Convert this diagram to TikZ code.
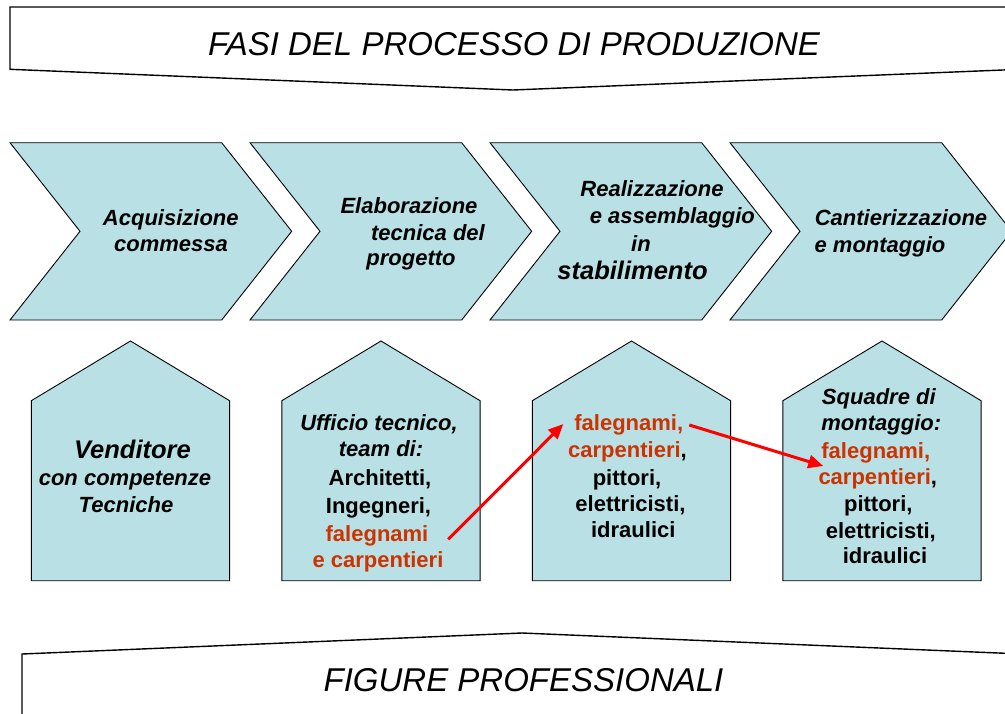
\documentclass[tikz,border=0pt]{standalone}
\usepackage{fontspec}
\setmainfont{Liberation Sans}
\usetikzlibrary{arrows.meta}
\definecolor{boxfill}{RGB}{185,224,228}
\definecolor{orangetxt}{RGB}{204,51,0}
\definecolor{arrowred}{RGB}{255,0,0}
\tikzset{
  shapebox/.style={draw=black,line width=0.9pt,fill=boxfill,line join=miter},
  banner/.style={draw=black,line width=1.4pt,fill=white},
  txt/.style={inner sep=0pt,anchor=base,font=\fontsize{22}{24}\selectfont\bfseries\itshape},
  txtup/.style={inner sep=0pt,anchor=base,font=\fontsize{22}{24}\selectfont\bfseries},
  txtbig/.style={inner sep=0pt,anchor=base,font=\fontsize{25.5}{28}\selectfont\bfseries\itshape},
  title/.style={inner sep=0pt,anchor=base,font=\fontsize{33}{36}\selectfont\itshape},
  redarrow/.style={draw=arrowred,line width=3pt,-{Triangle[length=15pt,width=13pt]}}
}
\begin{document}
\begin{tikzpicture}[x=1pt,y=-1pt]
\useasboundingbox (0,0) rectangle (1005,713);
\clip (0,0) rectangle (1005,713);
% top banner
\draw[banner] (10,7) -- (1020,7) -- (1020,69.3) -- (513,90) -- (10,69.3) -- cycle;
\node[title] (ttop) at (514,55) {FASI DEL PROCESSO DI PRODUZIONE};
% bottom banner
\draw[banner] (22,720) -- (22,654) -- (522,633) -- (1022,654) -- (1022,720);
\node[title] (tbot) at (523.5,691) {FIGURE PROFESSIONALI};
% chevrons
\foreach \i in {0,1,2,3}{
  \pgfmathsetmacro{\xl}{10+240*\i}
  \draw[shapebox] (\xl,142.7) -- ({\xl+211.7},142.7) -- ({\xl+281.7},231.3)
     -- ({\xl+211.7},320) -- (\xl,320) -- ({\xl+70},231.3) -- cycle;
}
% houses
\foreach \i in {0,1,2,3}{
  \pgfmathsetmacro{\xl}{31.3+250.5*\i}
  \draw[shapebox] (\xl,580.7) -- (\xl,400.7) -- ({\xl+99.2},341) -- ({\xl+198.3},400.7)
     -- ({\xl+198.3},580.7) -- cycle;
}
% chevron texts
\node[txt] (c1a) at (170.8,225.7) {Acquisizione};
\node[txt] (c1b) at (171,251) {commessa};
\node[txt] (c2a) at (409,213) {Elaborazione};
\node[txt] (c2b) at (428,240) {tecnica del};
\node[txt] (c2c) at (411,265) {progetto};
\node[txt] (c3a) at (652,196.7) {Realizzazione};
\node[txt] (c3b) at (672.3,223.3) {e assemblaggio};
\node[txt] (c3c) at (641,251) {in};
\node[txtbig] (c3d) at (632.5,279.3) {stabilimento};
\node[txt] (c4a) at (901,225.5) {Cantierizzazione};
\node[txt] (c4b) at (880,252) {e montaggio};
% house 1
\node[txtbig] (h1a) at (132.5,458.3) {Venditore};
\node[txt] (h1b) at (125,485) {con competenze};
\node[txt] (h1c) at (126,512.7) {Tecniche};
% house 2
\node[txt] (h2a) at (379,430) {Ufficio tecnico,};
\node[txt] (h2b) at (381,456.7) {team di:};
\node[txtup] (h2c) at (380,485) {Architetti,};
\node[txtup] (h2d) at (378.5,513) {Ingegneri,};
\node[txtup,text=orangetxt] (h2e) at (377,541.7) {falegnami};
\node[txtup,text=orangetxt] (h2f) at (378,567) {e carpentieri};
% house 3
\node[txtup,text=orangetxt] (h3a) at (628.8,430) {falegnami,};
\node[txtup] (h3b) at (627.5,457.7) {\textcolor{orangetxt}{carpentieri},};
\node[txtup] (h3c) at (627,485) {pittori,};
\node[txtup] (h3d) at (630.5,511.7) {elettricisti,};
\node[txtup] (h3e) at (633.3,537) {idraulici};
% house 4
\node[txt] (h4a) at (878.8,404) {Squadre di};
\node[txt] (h4b) at (881.3,430) {montaggio:};
\node[txtup,text=orangetxt] (h4c) at (875.8,458.3) {falegnami,};
\node[txtup] (h4d) at (877.8,484) {\textcolor{orangetxt}{carpentieri},};
\node[txtup] (h4e) at (878.3,511.7) {pittori,};
\node[txtup] (h4f) at (880.8,538.3) {elettricisti,};
\node[txtup] (h4g) at (885,563.3) {idraulici};
% arrows
\coordinate (a1s) at (448.3,539.3);
\coordinate (a1e) at (563.3,424);
\coordinate (a2s) at (689.3,425);
\coordinate (a2e) at (823.3,466);
\draw[redarrow] (a1s) -- (a1e);
\draw[redarrow] (a2s) -- (a2e);
\end{tikzpicture}
\end{document}
